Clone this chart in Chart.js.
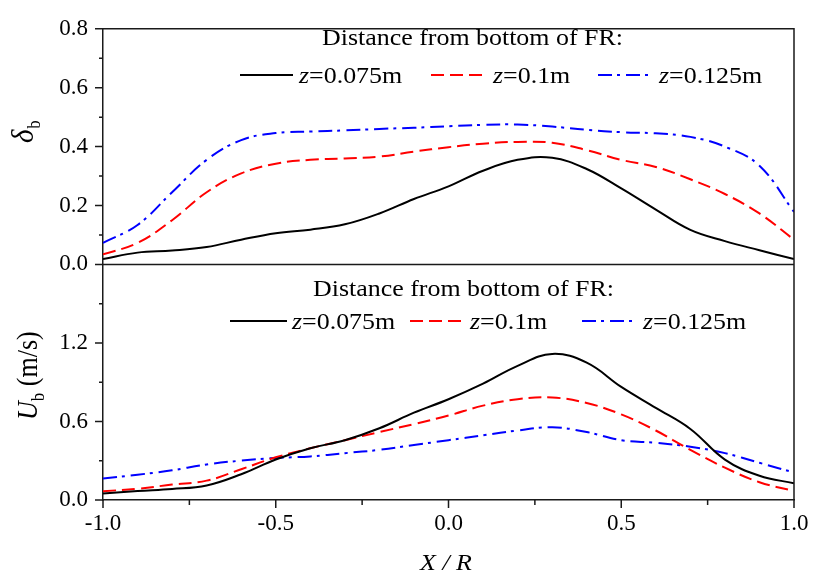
<!DOCTYPE html>
<html lang="en">
<head>
<meta charset="UTF-8">
<title>Bubble fraction and bubble velocity profiles</title>
<script src="https://cdn.jsdelivr.net/npm/chart.js"></script>
<style>
  html, body { margin: 0; padding: 0; background: #fff; }
</style>
</head>
<body>
<canvas id="myChart" width="813" height="581"></canvas>
<script>
// radial position X/R
const xPos = [-1.0, -0.9, -0.8, -0.7, -0.6, -0.5, -0.4, -0.3, -0.2, -0.1, 0.0,
              0.1, 0.2, 0.3, 0.4, 0.5, 0.6, 0.7, 0.8, 0.9, 1.0];

// bubble fraction (top panel)
const deltaZ075  = [0.018, 0.040, 0.047, 0.059, 0.084, 0.106, 0.118, 0.136, 0.173, 0.222, 0.265,
                    0.318, 0.355, 0.362, 0.324, 0.258, 0.186, 0.117, 0.079, 0.048, 0.018];
const deltaZ01   = [0.034, 0.073, 0.150, 0.245, 0.309, 0.342, 0.355, 0.360, 0.366, 0.383, 0.398,
                    0.410, 0.416, 0.413, 0.388, 0.355, 0.331, 0.289, 0.239, 0.173, 0.084];
const deltaZ0125 = [0.073, 0.134, 0.245, 0.355, 0.422, 0.446, 0.451, 0.455, 0.460, 0.464, 0.469,
                    0.474, 0.475, 0.468, 0.457, 0.449, 0.445, 0.433, 0.400, 0.335, 0.178];

// bubble velocity, m/s (bottom panel)
const uZ075  = [0.050, 0.069, 0.084, 0.111, 0.197, 0.309, 0.395, 0.457, 0.548, 0.667, 0.770,
                0.889, 1.025, 1.116, 1.049, 0.864, 0.704, 0.543, 0.309, 0.185, 0.128];
const uZ01   = [0.067, 0.086, 0.118, 0.148, 0.235, 0.326, 0.395, 0.457, 0.519, 0.580, 0.645,
                0.721, 0.770, 0.783, 0.741, 0.654, 0.531, 0.383, 0.247, 0.136, 0.069];
const uZ0125 = [0.165, 0.193, 0.227, 0.272, 0.301, 0.321, 0.333, 0.358, 0.383, 0.420, 0.457,
                0.494, 0.531, 0.556, 0.519, 0.457, 0.437, 0.407, 0.358, 0.284, 0.210];

const seriesLabels = ['0.075m', '0.1m', '0.125m'];
const legendTitle = 'Distance from bottom of FR:';

const serif = '"Liberation Serif", "Times New Roman", serif';
const styles = [
    { color: '#000000', dash: [] },
    { color: '#ff0000', dash: [13, 6] },
    { color: '#0000ff', dash: [14, 5, 3, 6] }
];

function pts(ys) {
    return xPos.map((x, i) => ({ x: x, y: ys[i] }));
}

function line(ys, k, axis) {
    return {
        label: 'z=' + seriesLabels[k],
        data: pts(ys),
        yAxisID: axis,
        borderColor: styles[k].color,
        borderDash: styles[k].dash,
        borderWidth: 2,
        pointRadius: 0,
        tension: 0.4,
        fill: false
    };
}

// draws text stretched horizontally like the original figure
function txt(ctx, s, x, y, font, sx) {
    ctx.save();
    ctx.translate(x, y);
    ctx.scale(sx || 1, 1);
    ctx.font = font;
    ctx.fillText(s, 0, 0);
    const w = ctx.measureText(s).width * (sx || 1);
    ctx.restore();
    return w;
}

function drawLegend(ctx, tx, ty, rowY, items) {
    ctx.fillStyle = '#000';
    ctx.textBaseline = 'alphabetic';
    ctx.textAlign = 'left';
    txt(ctx, legendTitle, tx, ty, '24px ' + serif, 1.08);
    items.forEach((it, k) => {
        ctx.save();
        ctx.strokeStyle = styles[k].color;
        ctx.lineWidth = 2;
        ctx.setLineDash(styles[k].dash);
        ctx.beginPath();
        ctx.moveTo(it[0], rowY - 8);
        ctx.lineTo(it[1], rowY - 8);
        ctx.stroke();
        ctx.restore();
        const w = txt(ctx, 'z', it[2], rowY, 'italic 24px ' + serif, 1.08);
        txt(ctx, '=' + seriesLabels[k], it[2] + w, rowY, '24px ' + serif, 1.08);
    });
}

const decor = {
    id: 'decor',
    afterDraw(chart) {
        const { ctx, chartArea: a, scales } = chart;
        const x = scales.x, yD = scales.yD, yU = scales.yU;
        ctx.save();
        ctx.strokeStyle = '#1a1a1a';
        ctx.lineWidth = 1.5;
        ctx.beginPath();
        ctx.moveTo(a.left, a.top);
        ctx.lineTo(a.right, a.top);
        ctx.lineTo(a.right, a.bottom);
        ctx.moveTo(a.left, yD.bottom);
        ctx.lineTo(a.right, yD.bottom);
        // y ticks, major and minor
        for (let i = 0; i <= 8; i++) {
            const py = yD.getPixelForValue(i * 0.1);
            ctx.moveTo(a.left - (i % 2 ? 4 : 8), py);
            ctx.lineTo(a.left, py);
        }
        for (let i = 0; i <= 6; i++) {
            const py = yU.getPixelForValue(i * 0.3);
            ctx.moveTo(a.left - (i % 2 ? 4 : 8), py);
            ctx.lineTo(a.left, py);
        }
        // x ticks
        for (let i = 0; i <= 8; i++) {
            const px = x.getPixelForValue(-1 + i * 0.25);
            ctx.moveTo(px, a.bottom);
            ctx.lineTo(px, a.bottom + (i % 2 ? 5 : 8));
        }
        ctx.stroke();

        drawLegend(ctx, 322, 45, 83, [[240, 293, 299], [431, 487, 493], [598, 650, 659]]);
        drawLegend(ctx, 313, 296, 329, [[230, 287, 292], [410, 465, 470], [582, 632, 643]]);

        // axis titles
        ctx.fillStyle = '#000';
        ctx.save();
        ctx.translate(33, 143);
        ctx.rotate(-Math.PI / 2);
        ctx.scale(1, 1.12);
        ctx.font = 'italic 29px ' + serif;
        ctx.fillText('\u03b4', 0, 0);
        const dw = ctx.measureText('\u03b4').width;
        ctx.font = '16px ' + serif;
        ctx.fillText('b', dw + 1, 6);
        ctx.restore();

        ctx.save();
        ctx.translate(37, 420);
        ctx.rotate(-Math.PI / 2);
        ctx.scale(1, 1.1);
        ctx.font = 'italic 26px ' + serif;
        ctx.fillText('U', 0, 0);
        let w = ctx.measureText('U').width;
        ctx.font = '17px ' + serif;
        ctx.fillText('b', w, 6);
        w += ctx.measureText('b').width;
        ctx.font = '26px ' + serif;
        ctx.fillText(' (m/s)', w, 0);
        ctx.restore();

        ctx.textAlign = 'center';
        txt(ctx, 'X / R', 446, 570, 'italic 24px ' + serif, 1.08);
        ctx.restore();
    }
};

const tickFont = { family: serif, size: 23 };

const ctx = document.getElementById('myChart').getContext('2d');
const myChart = new Chart(ctx, {
    type: 'line',
    data: {
        datasets: [
            line(deltaZ075, 0, 'yD'),
            line(deltaZ01, 1, 'yD'),
            line(deltaZ0125, 2, 'yD'),
            line(uZ075, 0, 'yU'),
            line(uZ01, 1, 'yU'),
            line(uZ0125, 2, 'yU')
        ]
    },
    options: {
        responsive: false,
        animation: false,
        events: [],
        layout: { padding: { top: 16, right: 19, left: 0, bottom: 0 } },
        plugins: { legend: { display: false }, tooltip: { enabled: false } },
        scales: {
            x: {
                type: 'linear',
                position: 'bottom',
                min: -1, max: 1,
                ticks: {
                    stepSize: 0.5,
                    color: '#000',
                    font: tickFont,
                    padding: 10,
                    maxRotation: 0,
                    callback: v => v.toFixed(1)
                },
                grid: { display: false, drawTicks: false },
                border: { display: true, color: '#1a1a1a', width: 1.5 },
                afterFit: s => { s.height = 81; s.paddingLeft = 0; s.paddingRight = 0; }
            },
            yU: {
                type: 'linear',
                position: 'left',
                stack: 'panels',
                stackWeight: 1,
                min: 0, max: 1.8,
                ticks: {
                    stepSize: 0.6,
                    color: '#000',
                    font: tickFont,
                    padding: 15,
                    callback: v => (v > 1.7 ? '' : v.toFixed(1))
                },
                grid: { display: false, drawTicks: false },
                border: { display: true, color: '#1a1a1a', width: 1.5 },
                afterFit: s => { s.width = 103; }
            },
            yD: {
                type: 'linear',
                position: 'left',
                stack: 'panels',
                stackWeight: 1,
                min: 0, max: 0.8,
                ticks: {
                    stepSize: 0.2,
                    color: '#000',
                    font: tickFont,
                    padding: 15,
                    callback: v => v.toFixed(1)
                },
                grid: { display: false, drawTicks: false },
                border: { display: true, color: '#1a1a1a', width: 1.5 },
                afterFit: s => { s.width = 103; }
            }
        }
    },
    plugins: [decor]
});
</script>
</body>
</html>
